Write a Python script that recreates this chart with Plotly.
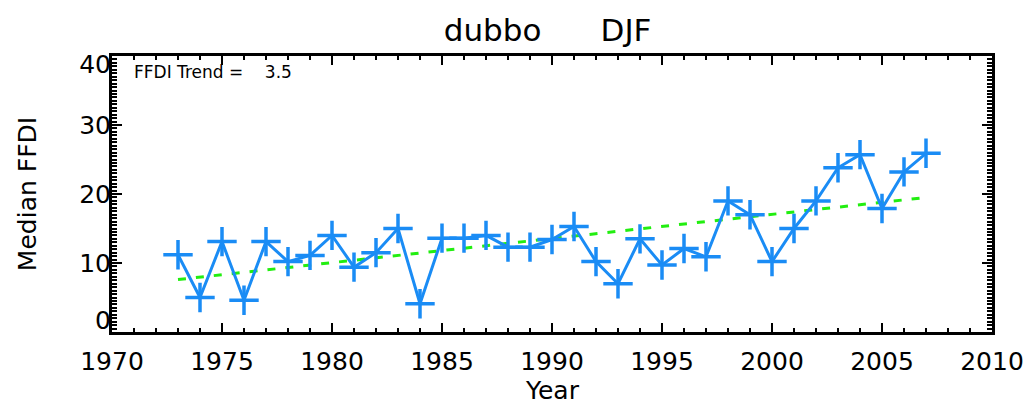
import plotly.graph_objects as go

years = list(range(1973, 2008))
ffdi = [11.2, 5.0, 13.1, 4.6, 13.1, 10.2, 11.1, 14.0, 9.4, 11.5, 15.0, 4.1,
        13.6, 13.6, 14.0, 12.3, 12.3, 13.4, 15.3, 10.2, 7.0, 13.5, 9.7, 12.1,
        10.9, 19.0, 17.0, 10.2, 15.0, 19.0, 23.8, 25.7, 17.9, 23.2, 25.9]
trend_years = [1973, 2007]
trend_values = [7.6, 19.5]
trend_label = "FFDI Trend =    3.5"
title_text = "dubbo      DJF"
x_title = "Year"
y_title = "Median FFDI"
x_ticks = [1970, 1975, 1980, 1985, 1990, 1995, 2000, 2005, 2010]
y_ticks = [10, 20, 30]
y_label_pos = [1.7, 10, 20, 30, 38.8]
y_label_text = ["0", "10", "20", "30", "40"]

font_family = "DejaVu Sans, Liberation Sans, sans-serif"

fig = go.Figure()
fig.add_trace(go.Scatter(
    x=trend_years, y=trend_values, mode="lines",
    line=dict(color="#22ee10", width=3, dash="8px,10px"),
    showlegend=False, hoverinfo="skip"))
fig.add_trace(go.Scatter(
    x=years, y=ffdi, mode="lines+markers",
    line=dict(color="#1a8cf5", width=3),
    marker=dict(symbol="cross-thin", size=21, color="#1a8cf5",
                line=dict(color="#1a8cf5", width=3.5)),
    showlegend=False))
# invisible trace to anchor the label axis
fig.add_trace(go.Scatter(x=[None], y=[None], yaxis="y2", showlegend=False, hoverinfo="skip"))

fig.add_annotation(x=0.0, y=1.0, xref="paper", yref="paper",
                   xshift=20, yshift=-4,
                   text=trend_label, showarrow=False, xanchor="left", yanchor="top",
                   font=dict(family=font_family, size=17, color="black"))
fig.add_annotation(x=0.5, y=0.0, xref="paper", yref="paper",
                   yshift=-58, text=x_title, showarrow=False,
                   xanchor="center", yanchor="middle",
                   font=dict(family=font_family, size=25, color="black"))

fig.update_layout(
    width=1018, height=399,
    paper_bgcolor="white", plot_bgcolor="white",
    margin=dict(l=104, r=34, t=48, b=75, autoexpand=False),
    title=dict(text=title_text, x=0.495, xref="paper", xanchor="center",
               y=1 - 22 / 399, yanchor="middle",
               font=dict(family=font_family, size=31, color="black")),
    font=dict(family=font_family, color="black"),
    xaxis=dict(range=[1970, 2010], tickvals=x_ticks, showgrid=False, zeroline=False,
               automargin=False,
               showline=True, linecolor="black", linewidth=3, mirror="ticks",
               ticks="inside", ticklen=9, tickwidth=2, tickcolor="black",
               minor=dict(dtick=1, ticks="inside", ticklen=4, tickwidth=1.5, tickcolor="black"),
               tickfont=dict(size=25, family=font_family), ticklabelstandoff=5),
    yaxis=dict(range=[0, 40], tickvals=y_ticks, showticklabels=False, showgrid=False, zeroline=False,
               automargin=False,
               showline=True, linecolor="black", linewidth=3, mirror="ticks",
               ticks="inside", ticklen=10, tickwidth=2, tickcolor="black",
               minor=dict(dtick=0.5, ticks="inside", ticklen=5, tickwidth=1.5, tickcolor="black"),
               title=dict(text=y_title, font=dict(size=25, family=font_family), standoff=66)),
    yaxis2=dict(range=[0, 40], overlaying="y", side="left", tickvals=y_label_pos,
                automargin=False,
                ticktext=y_label_text, ticks="", showgrid=False, zeroline=False,
                showline=False, tickfont=dict(size=25, family=font_family)),
)

fig.write_html("out.html")
